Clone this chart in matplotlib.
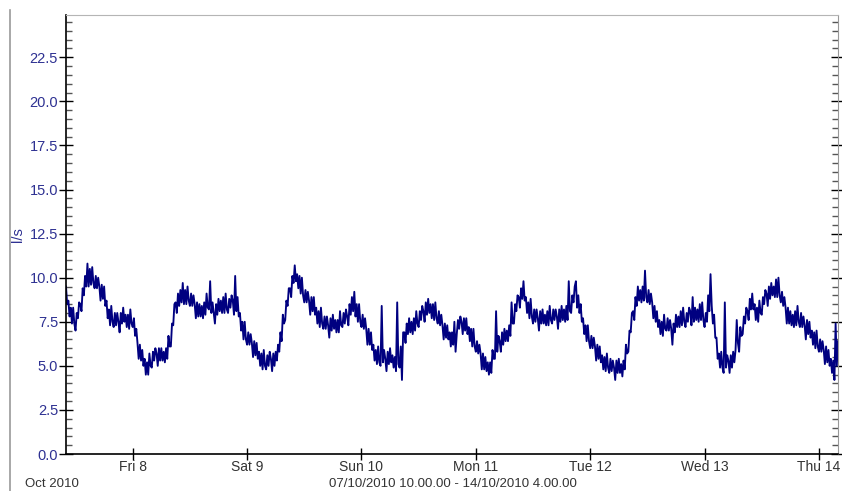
import matplotlib
matplotlib.use("Agg")
import matplotlib.pyplot as plt
import matplotlib.dates as mdates
from matplotlib.lines import Line2D
from matplotlib.ticker import MultipleLocator
import pandas as pd

# flow readings (l/s), one every 15 min from 07/10/2010 10:00 to 14/10/2010 04:00
start = "2010-10-07 10:00"
flow = [
    # 7 Oct 10h-16h
    9.5, 8.5, 8.7, 7.8, 8.3, 7.4, 8.3, 7.4, 7.0, 8.0, 7.7, 8.6, 8.5, 8.1, 9.4, 9.0, 10.1, 9.5, 10.8, 9.5, 10.5, 9.6, 10.6, 9.7,
    9.4, 10.1, 9.4, 10.0, 9.5, 8.7, 9.6, 8.8, 9.5, 8.4, 8.7, 7.7, 8.2, 7.3, 8.4, 7.5, 7.2, 8.0, 7.3, 8.0, 7.5, 6.9, 8.0, 7.4,
    8.3, 7.5, 7.9, 7.2, 7.9, 7.1, 8.2, 7.4, 7.2, 7.7, 6.7, 7.1, 6.3, 5.4, 6.2, 5.3, 5.9, 5.0, 5.4, 4.5, 5.2, 4.5, 5.7, 5.0,
    4.9, 5.8, 5.3, 6.0, 5.7, 5.0, 6.0, 5.3, 6.0, 5.3, 5.8, 5.2, 6.0, 5.4, 6.7, 6.1, 6.1, 7.4, 7.3, 8.5, 8.6, 8.0, 9.1, 8.4,
    # 8 Oct 10h-
    9.3, 8.6, 9.7, 8.5, 9.3, 8.5, 9.5, 8.7, 8.4, 9.1, 8.4, 9.0, 8.5, 7.7, 8.6, 7.8, 8.5, 7.8, 8.4, 7.7, 8.6, 7.9, 9.1, 8.3,
    8.2, 9.8, 8.0, 8.6, 8.0, 7.4, 8.5, 7.9, 8.8, 8.1, 8.7, 8.0, 8.9, 8.0, 9.1, 8.2, 8.0, 8.8, 8.3, 9.0, 8.7, 7.9, 10.1, 8.1,
    8.9, 7.8, 8.0, 7.0, 7.5, 6.5, 7.5, 6.5, 6.2, 6.9, 6.2, 6.8, 6.3, 5.5, 6.4, 5.6, 6.3, 5.4, 5.8, 5.0, 5.7, 4.8, 5.9, 5.0,
    4.8, 5.6, 5.0, 5.8, 5.4, 4.7, 5.7, 5.0, 5.8, 5.3, 6.2, 5.8, 6.9, 6.4, 7.9, 7.4, 7.6, 8.7, 8.4, 9.4, 9.4, 8.9, 10.1, 9.7,
    # 9 Oct 10h-
    10.7, 9.8, 10.2, 9.4, 10.1, 9.1, 10.0, 9.0, 8.6, 9.3, 8.6, 9.2, 8.7, 7.9, 8.9, 8.1, 8.9, 7.9, 8.3, 7.4, 8.1, 7.2, 8.3, 7.4,
    7.1, 7.8, 7.1, 7.8, 7.3, 6.6, 7.7, 7.0, 7.9, 7.1, 7.6, 6.9, 7.6, 6.9, 8.1, 7.3, 7.2, 8.0, 7.4, 8.2, 7.8, 7.3, 8.5, 7.9,
    8.9, 8.1, 9.2, 7.8, 8.5, 7.5, 8.5, 7.5, 7.2, 7.9, 7.1, 7.7, 7.1, 6.2, 7.1, 6.2, 6.9, 5.9, 6.2, 5.3, 5.9, 5.1, 6.1, 5.2,
    5.0, 8.4, 5.2, 5.9, 5.4, 4.7, 5.8, 5.1, 6.0, 5.2, 5.6, 4.9, 5.5, 4.7, 8.6, 5.1, 4.9, 6.1, 4.2, 6.9, 6.9, 6.3, 7.4, 6.8,
    # 10 Oct 10h-
    7.7, 6.9, 7.5, 6.8, 7.7, 7.0, 8.1, 7.4, 7.2, 8.1, 7.6, 8.4, 8.1, 7.5, 8.6, 7.9, 8.8, 8.0, 8.5, 7.7, 8.5, 7.6, 8.6, 7.7,
    7.4, 8.1, 7.3, 7.9, 7.3, 6.5, 7.4, 6.6, 7.3, 6.5, 6.9, 6.1, 6.9, 6.2, 7.5, 5.8, 6.8, 7.6, 7.1, 7.8, 7.5, 6.8, 7.7, 7.0,
    7.7, 6.8, 7.2, 6.4, 7.1, 6.1, 7.1, 6.1, 5.8, 6.4, 5.7, 6.2, 5.7, 4.8, 5.7, 4.8, 5.5, 4.7, 5.2, 4.5, 5.2, 4.6, 5.9, 5.4,
    5.4, 8.1, 5.8, 6.7, 6.4, 5.8, 6.9, 6.2, 7.1, 6.4, 7.0, 6.4, 7.3, 6.7, 8.6, 7.4, 7.4, 8.5, 8.1, 9.0, 8.9, 8.3, 9.4, 8.8,
    # 11 Oct 10h-
    9.8, 8.7, 8.9, 8.0, 8.6, 7.7, 8.8, 7.8, 7.4, 8.2, 7.5, 8.2, 7.7, 7.0, 8.1, 7.4, 8.2, 7.4, 7.9, 7.3, 8.1, 7.3, 8.4, 7.6,
    7.4, 8.2, 7.6, 8.2, 7.8, 7.1, 8.2, 7.5, 8.4, 7.6, 8.2, 7.5, 8.4, 7.6, 9.8, 8.1, 8.0, 9.0, 8.6, 9.5, 9.8, 8.3, 9.0, 8.0,
    8.5, 7.5, 7.7, 6.8, 7.3, 6.4, 7.3, 6.4, 6.0, 6.7, 6.0, 6.6, 6.1, 5.3, 6.2, 5.4, 6.1, 5.2, 5.6, 4.8, 5.5, 4.7, 5.7, 4.9,
    4.6, 5.4, 4.7, 5.3, 4.9, 4.2, 5.3, 4.6, 5.4, 4.6, 5.1, 4.4, 5.3, 4.8, 6.2, 5.7, 5.8, 7.0, 6.9, 8.0, 8.1, 7.6, 8.9, 8.4,
    # 12 Oct 10h-
    9.5, 8.7, 9.3, 8.6, 9.5, 8.7, 10.4, 8.9, 8.6, 9.3, 8.5, 9.1, 8.6, 7.7, 8.4, 7.5, 8.1, 7.2, 7.6, 6.8, 7.5, 6.7, 7.9, 7.1,
    7.0, 7.7, 7.0, 7.6, 7.1, 6.2, 7.4, 6.9, 7.9, 7.2, 7.8, 7.2, 8.1, 7.3, 8.3, 7.5, 7.2, 8.0, 7.5, 8.3, 8.1, 7.3, 8.9, 7.5,
    8.3, 7.6, 8.2, 7.5, 8.5, 7.6, 8.6, 7.6, 7.2, 8.0, 7.5, 9.0, 8.1, 10.2, 8.4, 7.4, 7.9, 6.6, 6.6, 5.4, 5.7, 4.9, 5.8, 4.9,
    4.6, 8.6, 4.9, 5.6, 5.3, 4.6, 5.6, 4.9, 5.8, 5.2, 5.9, 7.6, 6.3, 5.8, 7.2, 6.7, 6.8, 7.8, 7.4, 8.3, 8.1, 7.6, 8.8, 8.2,
    # 13 Oct 10h-
    9.1, 8.2, 8.5, 7.6, 8.3, 7.5, 8.7, 8.0, 7.9, 8.9, 8.5, 9.3, 9.1, 8.4, 9.5, 8.8, 9.7, 9.0, 9.5, 8.9, 9.9, 8.9, 10.0, 9.0,
    8.6, 9.2, 8.4, 8.9, 8.3, 7.4, 8.3, 7.4, 8.1, 7.3, 7.9, 7.2, 8.1, 7.3, 8.4, 7.5, 7.2, 8.0, 7.2, 7.8, 7.3, 6.5, 7.6, 6.8,
    7.5, 6.6, 7.0, 6.2, 6.9, 6.0, 7.0, 6.1, 5.8, 6.5, 5.8, 6.4, 5.9, 5.1, 6.1, 5.2, 5.9, 5.0, 5.4, 4.6, 5.3, 4.2, 7.4, 5.0,
    6.4,
]
times = pd.date_range(start, periods=len(flow), freq="15min")

label_blue = "#2e3192"
line_col = "#000080"

plt.rcParams["font.family"] = ["Liberation Sans", "DejaVu Sans"]

fig = plt.figure(figsize=(8.42, 4.91), dpi=100)
ax = fig.add_axes([66 / 842, 37 / 491, 772 / 842, 439 / 491])

ax.plot(times, flow, color=line_col, lw=1.35)

ax.set_xlim(pd.Timestamp("2010-10-07 10:00"), pd.Timestamp("2010-10-14 04:00"))
ax.set_ylim(0, 24.9)

ax.xaxis.set_major_locator(mdates.DayLocator())
ax.xaxis.set_major_formatter(
    plt.FuncFormatter(lambda v, p: "%s %d" % (mdates.num2date(v).strftime("%a"), mdates.num2date(v).day)))
ax.yaxis.set_major_locator(MultipleLocator(2.5))
ax.yaxis.set_minor_locator(MultipleLocator(0.5))
ax.yaxis.set_major_formatter(plt.FormatStrFormatter("%.1f"))

# tick lengths are in points (1 pt = 1.39 px here)
ax.tick_params(axis="x", which="major", direction="inout", length=9, width=1,
               labelsize=10, labelcolor="#333333", pad=-0.5)
ax.tick_params(axis="y", which="major", direction="inout", length=9.5, width=1,
               labelsize=10.5, labelcolor=label_blue, right=True, pad=1)
ax.tick_params(axis="y", which="minor", direction="in", length=4.3, width=1,
               right=True, color="#555555")

ax.spines["top"].set_color("#b5b5b5")
ax.spines["right"].set_color("#999999")
ax.spines["left"].set_linewidth(1.2)
ax.spines["bottom"].set_linewidth(1.2)

ax.set_ylabel("l/s", color=label_blue, fontsize=10.5)
ax.yaxis.set_label_coords(-41 / 772, 0.50)

fig.text(25 / 842, 0.6 / 491, "Oct 2010", fontsize=9.5, color="#333333", va="bottom")
fig.text(453 / 842, 0.6 / 491, "07/10/2010 10.00.00 - 14/10/2010 4.00.00",
         fontsize=9.5, color="#333333", ha="center", va="bottom")

# grey frame line at the far left
fig.add_artist(Line2D([10 / 842, 10 / 842], [0, 481 / 491], color="#9a9a9a", lw=1.2))

fig.savefig("out.png", dpi=100)
